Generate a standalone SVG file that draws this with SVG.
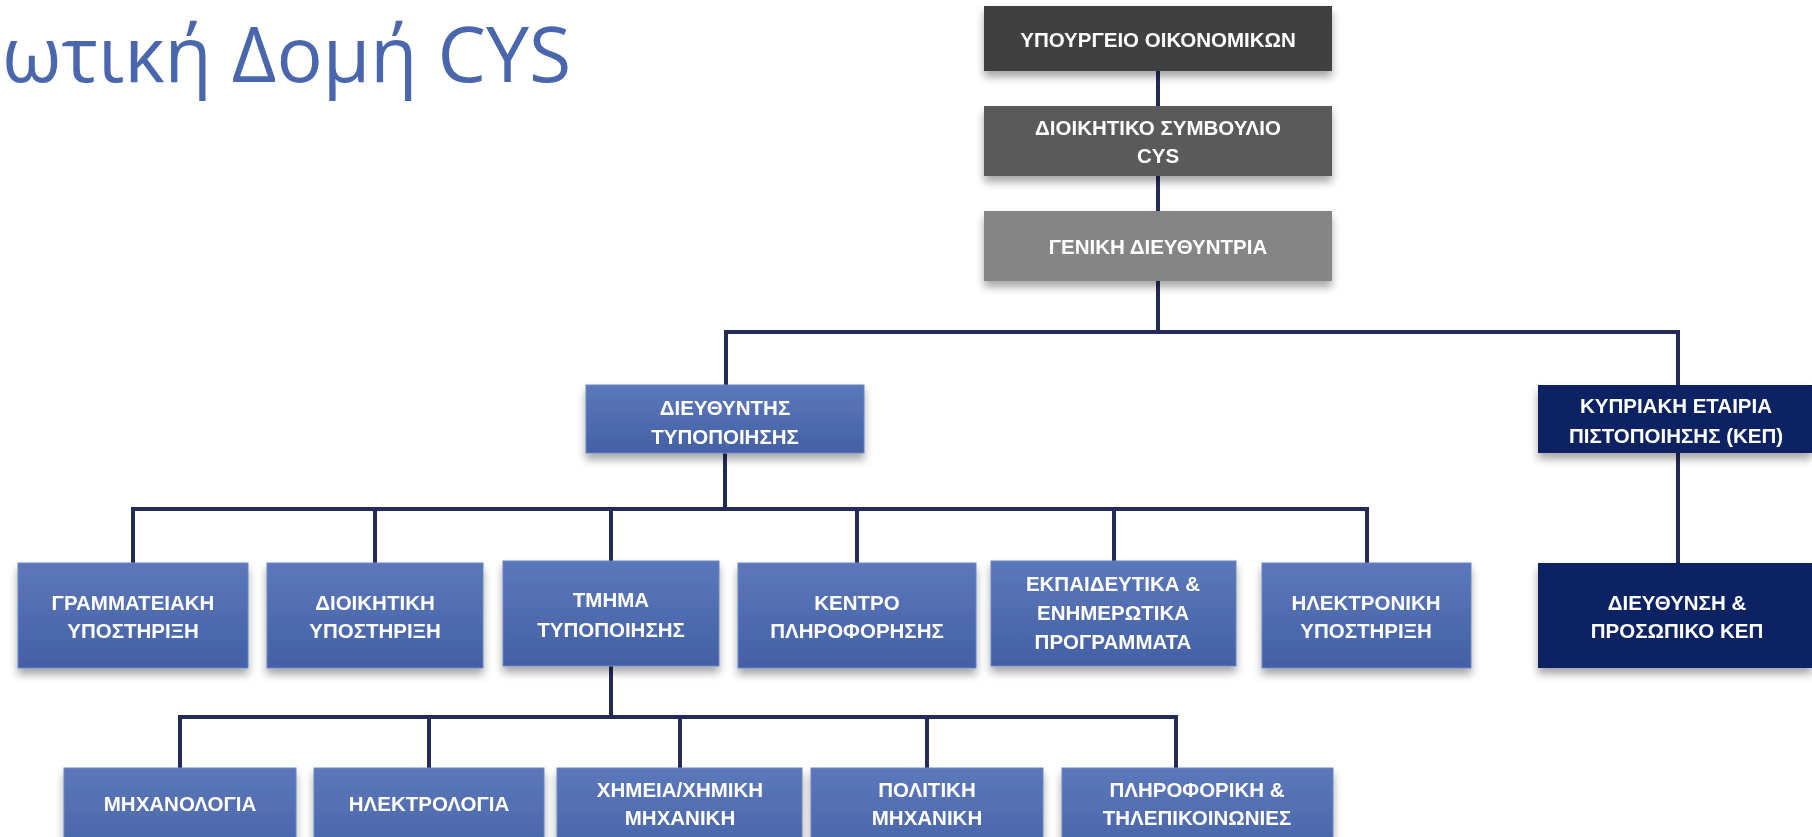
<svg xmlns="http://www.w3.org/2000/svg" width="1812" height="837" viewBox="0 0 1812 837">
<style>
.t{font-family:"Liberation Sans",Arial,sans-serif;font-weight:bold;font-size:20.5px;fill:#ffffff;text-anchor:middle}
.title{font-family:"Open Sans","Noto Sans","Liberation Sans",sans-serif;font-size:77px;fill:#4a66ac}
.c{fill:none;stroke:#262a57;stroke-width:4;stroke-linejoin:miter}
.blue{fill:url(#gb);stroke:#6b85c3;stroke-width:1}
.kep{fill:#0c2462}
</style>
<defs>
<linearGradient id="gb" x1="0" y1="0" x2="0" y2="1">
<stop offset="0" stop-color="#5c78ba"/>
<stop offset="1" stop-color="#4460a5"/>
</linearGradient>
<filter id="sh" x="-10%" y="-20%" width="120%" height="150%">
<feDropShadow dx="0" dy="6" stdDeviation="4" flood-color="#000" flood-opacity="0.35"/>
</filter>
</defs>
<rect width="1812" height="837" fill="#ffffff"/>
<text class="title" x="2" y="82">ωτική Δομή CYS</text>

<g id="connectors">
<path class="c" d="M1158,71 V106"/>
<path class="c" d="M1158,176 V211"/>
<path class="c" d="M1158,281 V332"/>
<path class="c" d="M726,385 V332 H1678 V385"/>
<path class="c" d="M725,453 V508"/>
<path class="c" d="M133,563 V509 H1367 V563"/>
<path class="c" d="M375,509 V563"/>
<path class="c" d="M611,509 V561"/>
<path class="c" d="M857,509 V563"/>
<path class="c" d="M1114,509 V561"/>
<path class="c" d="M1678,453 V563"/>
<path class="c" d="M611,666 V717"/>
<path class="c" d="M180,768 V717 H1176 V768"/>
<path class="c" d="M429,717 V768"/>
<path class="c" d="M680,717 V768"/>
<path class="c" d="M927,717 V768"/>
</g>

<g id="n-ypourgeio" filter="url(#sh)">
<rect x="984" y="6" width="348" height="65" fill="#404040"/>
<text class="t" x="1158" y="47">ΥΠΟΥΡΓΕΙΟ ΟΙΚΟΝΟΜΙΚΩΝ</text>
</g>
<g id="n-dioikitiko" filter="url(#sh)">
<rect x="984" y="106" width="348" height="70" fill="#5a5a5a"/>
<text class="t" x="1158" y="135">ΔΙΟΙΚΗΤΙΚΟ ΣΥΜΒΟΥΛΙΟ</text>
<text class="t" x="1158" y="163">CYS</text>
</g>
<g id="n-geniki" filter="url(#sh)">
<rect x="984" y="211" width="348" height="70" fill="#858585"/>
<text class="t" x="1158" y="254">ΓΕΝΙΚΗ ΔΙΕΥΘΥΝΤΡΙΑ</text>
</g>
<g id="n-diefthyntis" filter="url(#sh)">
<rect class="blue" x="586" y="385" width="278" height="68"/>
<text class="t" x="725" y="415">ΔΙΕΥΘΥΝΤΗΣ</text>
<text class="t" x="725" y="444">ΤΥΠΟΠΟΙΗΣΗΣ</text>
</g>
<g id="n-kep" filter="url(#sh)">
<rect class="kep" x="1538" y="385" width="274" height="68"/>
<text class="t" x="1676" y="413">ΚΥΠΡΙΑΚΗ ΕΤΑΙΡΙΑ</text>
<text class="t" x="1676" y="443">ΠΙΣΤΟΠΟΙΗΣΗΣ (ΚΕΠ)</text>
</g>

<g id="n-grammateiaki" filter="url(#sh)">
<rect class="blue" x="18" y="563" width="230" height="105"/>
<text class="t" x="133" y="610">ΓΡΑΜΜΑΤΕΙΑΚΗ</text>
<text class="t" x="133" y="638">ΥΠΟΣΤΗΡΙΞΗ</text>
</g>
<g id="n-dioikitiki" filter="url(#sh)">
<rect class="blue" x="267" y="563" width="216" height="105"/>
<text class="t" x="375" y="610">ΔΙΟΙΚΗΤΙΚΗ</text>
<text class="t" x="375" y="638">ΥΠΟΣΤΗΡΙΞΗ</text>
</g>
<g id="n-tmima" filter="url(#sh)">
<rect class="blue" x="503" y="561" width="216" height="105"/>
<text class="t" x="611" y="607">ΤΜΗΜΑ</text>
<text class="t" x="611" y="637">ΤΥΠΟΠΟΙΗΣΗΣ</text>
</g>
<g id="n-kentro" filter="url(#sh)">
<rect class="blue" x="738" y="563" width="238" height="105"/>
<text class="t" x="857" y="610">ΚΕΝΤΡΟ</text>
<text class="t" x="857" y="638">ΠΛΗΡΟΦΟΡΗΣΗΣ</text>
</g>
<g id="n-ekpaideftika" filter="url(#sh)">
<rect class="blue" x="991" y="561" width="245" height="105"/>
<text class="t" x="1113" y="591">ΕΚΠΑΙΔΕΥΤΙΚΑ &amp;</text>
<text class="t" x="1113" y="620">ΕΝΗΜΕΡΩΤΙΚΑ</text>
<text class="t" x="1113" y="649">ΠΡΟΓΡΑΜΜΑΤΑ</text>
</g>
<g id="n-ilektroniki" filter="url(#sh)">
<rect class="blue" x="1262" y="563" width="209" height="105"/>
<text class="t" x="1366" y="610">ΗΛΕΚΤΡΟΝΙΚΗ</text>
<text class="t" x="1366" y="638">ΥΠΟΣΤΗΡΙΞΗ</text>
</g>
<g id="n-diefthynsi-kep" filter="url(#sh)">
<rect class="kep" x="1538" y="563" width="274" height="105"/>
<text class="t" x="1677" y="610">ΔΙΕΥΘΥΝΣΗ &amp;</text>
<text class="t" x="1677" y="638">ΠΡΟΣΩΠΙΚΟ ΚΕΠ</text>
</g>

<g id="n-mixanologia" filter="url(#sh)">
<rect class="blue" x="64" y="768" width="232" height="105"/>
<text class="t" x="180" y="811">ΜΗΧΑΝΟΛΟΓΙΑ</text>
</g>
<g id="n-ilektrologia" filter="url(#sh)">
<rect class="blue" x="314" y="768" width="230" height="105"/>
<text class="t" x="429" y="811">ΗΛΕΚΤΡΟΛΟΓΙΑ</text>
</g>
<g id="n-ximeia" filter="url(#sh)">
<rect class="blue" x="557" y="768" width="245" height="105"/>
<text class="t" x="680" y="797">ΧΗΜΕΙΑ/ΧΗΜΙΚΗ</text>
<text class="t" x="680" y="825">ΜΗΧΑΝΙΚΗ</text>
</g>
<g id="n-politiki" filter="url(#sh)">
<rect class="blue" x="811" y="768" width="232" height="105"/>
<text class="t" x="927" y="797">ΠΟΛΙΤΙΚΗ</text>
<text class="t" x="927" y="825">ΜΗΧΑΝΙΚΗ</text>
</g>
<g id="n-pliroforiki" filter="url(#sh)">
<rect class="blue" x="1062" y="768" width="271" height="105"/>
<text class="t" x="1197" y="797">ΠΛΗΡΟΦΟΡΙΚΗ &amp;</text>
<text class="t" x="1197" y="825">ΤΗΛΕΠΙΚΟΙΝΩΝΙΕΣ</text>
</g>
</svg>
